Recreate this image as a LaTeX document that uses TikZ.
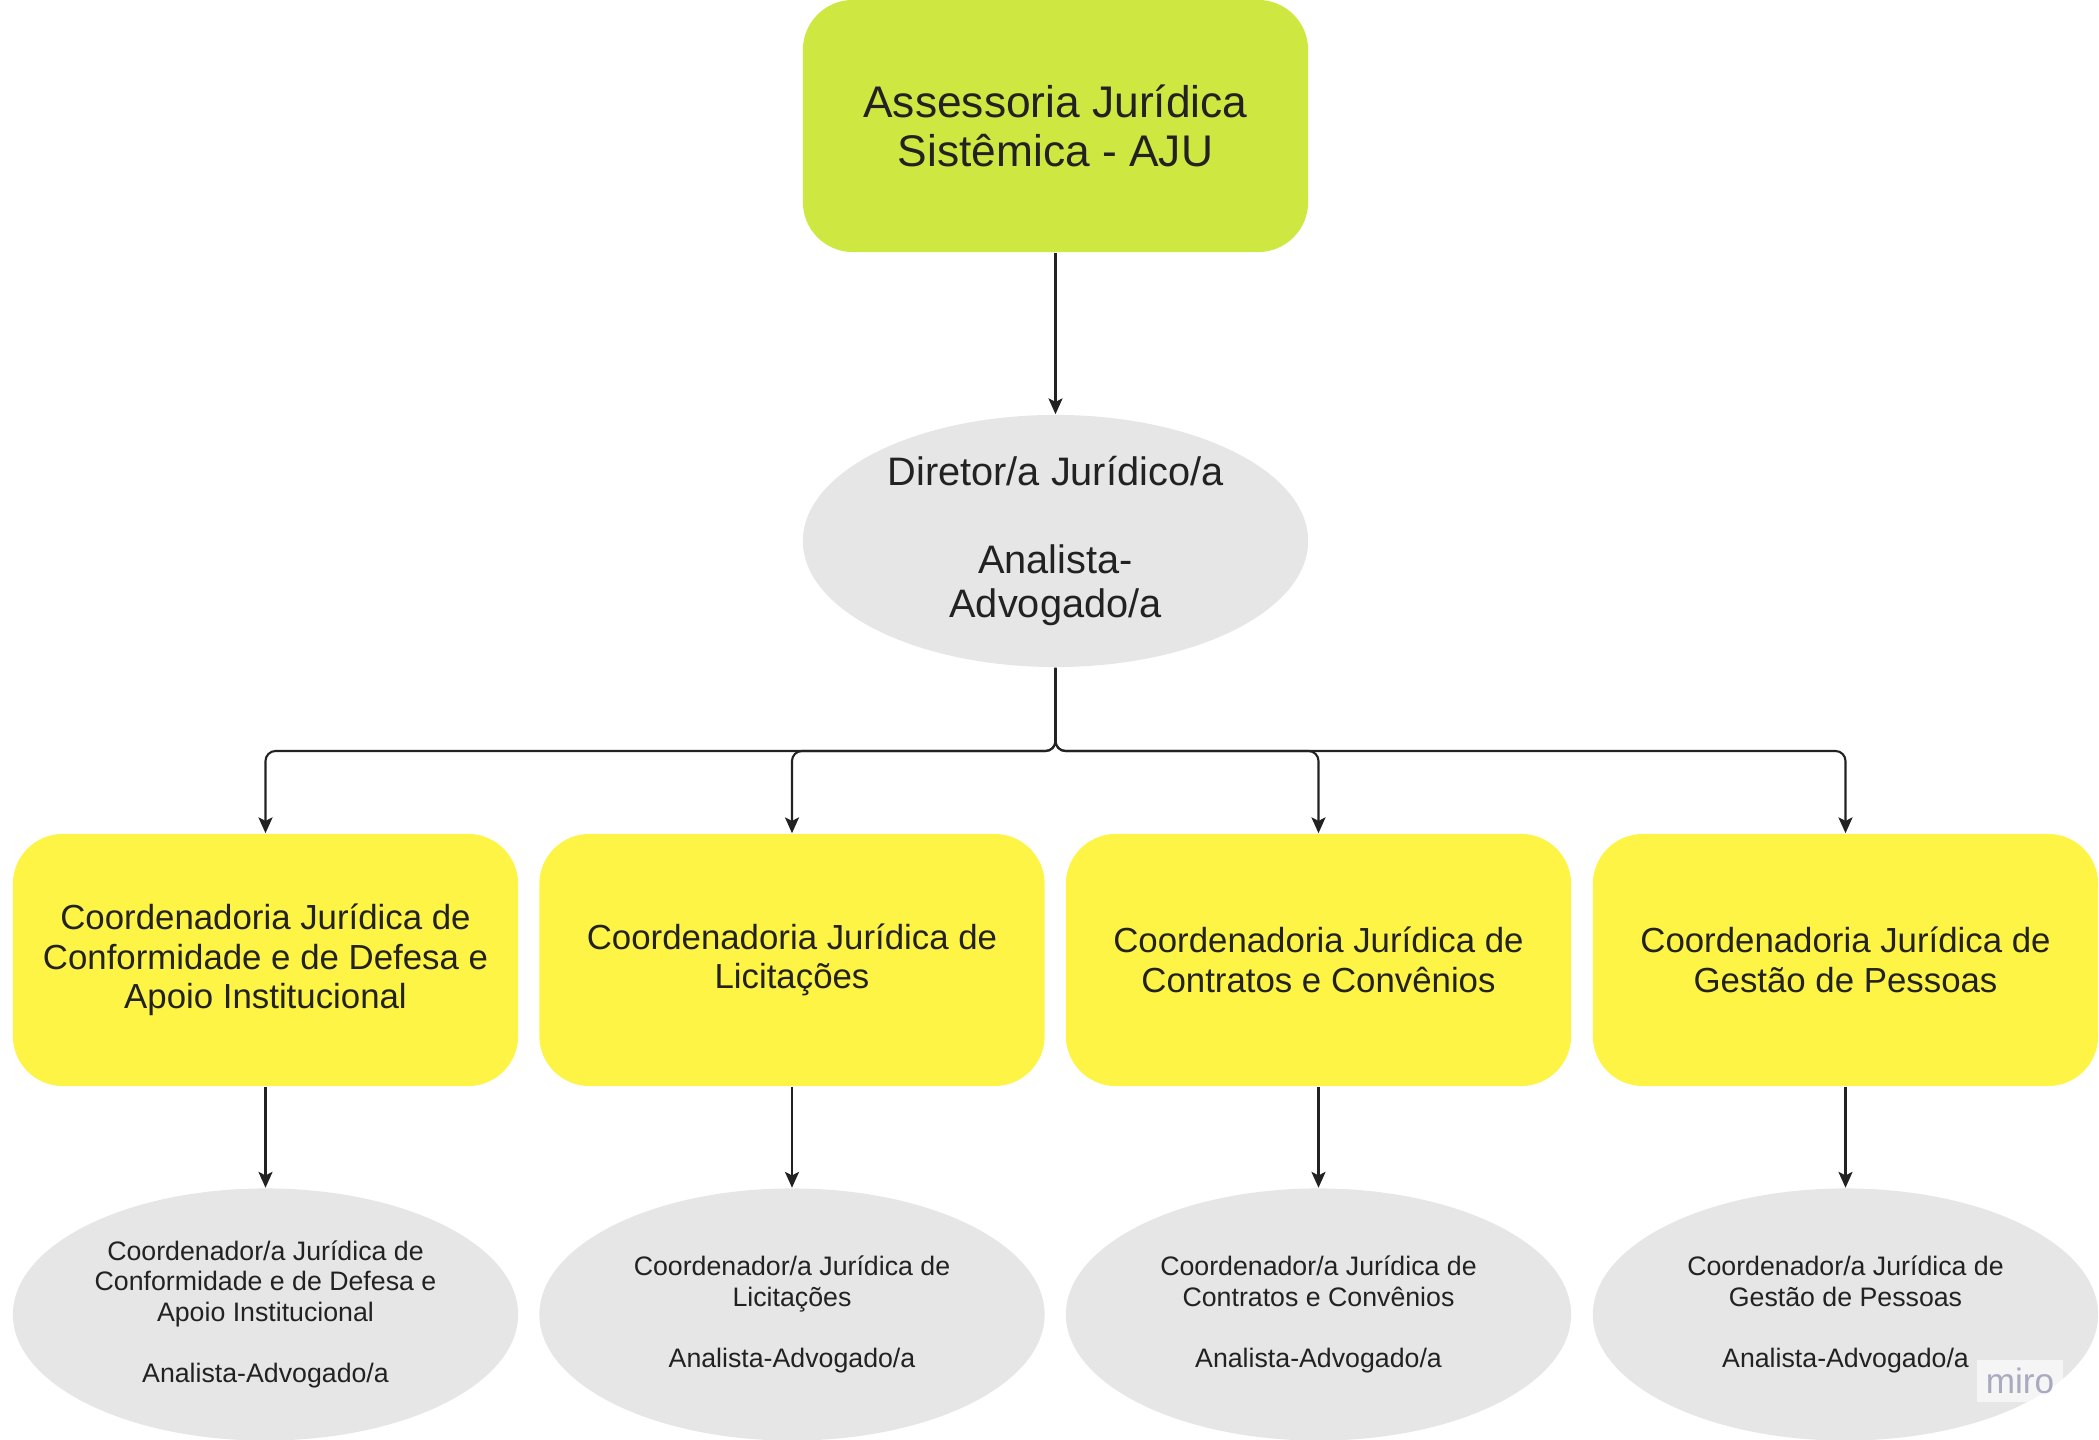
\documentclass[tikz,border=0pt]{standalone}
\usepackage{fontspec}
\setmainfont{Liberation Sans}
\usetikzlibrary{shapes.geometric}
\usetikzlibrary{arrows.meta}
\usetikzlibrary{positioning}

\definecolor{ajulime}{HTML}{CEE741}
\definecolor{cjyellow}{HTML}{FEF445}
\definecolor{rolegray}{HTML}{E6E6E6}
\definecolor{inkgray}{HTML}{222222}
\definecolor{miroink}{HTML}{A9A9BF}

\begin{document}
\begin{tikzpicture}[
  x=0.01cm, y=-0.01cm,
  every node/.style={text=inkgray, align=center, inner sep=0},
  unitbox/.style={rectangle, rounded corners=0.5cm, minimum width=5.05cm, minimum height=2.52cm},
  ajubox/.style={unitbox, fill=ajulime, font=\fontsize{12.6}{13.7}\selectfont},
  cjbox/.style={unitbox, fill=cjyellow, font=\fontsize{9.9}{11.2}\selectfont},
  rolebig/.style={ellipse, fill=rolegray, minimum width=5.05cm, minimum height=2.52cm, font=\fontsize{11.3}{12.5}\selectfont},
  rolesmall/.style={ellipse, fill=rolegray, minimum width=5.05cm, minimum height=2.52cm, font=\fontsize{7.6}{8.7}\selectfont},
  ar/.style={-{Stealth[length=4.5pt,width=4pt,inset=1pt]}, draw=inkgray, line width=0.6pt}
  ] %
    \useasboundingbox (0,0) rectangle (2099,1440);
    % head and director
    \node[ajubox](aju) at (1055.5,126) {Assessoria Jurídica\\Sistêmica - AJU};
    \node[rolebig](dir) at (1055.5,541) {Diretor/a Jurídico/a\\[12.5pt]Analista-\\Advogado/a};
    % coordinations
    \node[cjbox](c1) at (265.5,960) {Coordenadoria Jurídica de\\Conformidade e de Defesa e\\Apoio Institucional};
    \node[cjbox](c2) at (792,960) {Coordenadoria Jurídica de\\Licitações};
    \node[cjbox](c3) at (1318.5,960) {Coordenadoria Jurídica de\\Contratos e Convênios};
    \node[cjbox](c4) at (1845.5,960) {Coordenadoria Jurídica de\\Gestão de Pessoas};
    % staff
    \node[rolesmall](r1) at (265.5,1314.5) {Coordenador/a Jurídica de\\Conformidade e de Defesa e\\Apoio Institucional\\[8.7pt]Analista-Advogado/a};
    \node[rolesmall](r2) at (792,1314.5) {Coordenador/a Jurídica de\\Licitações\\[8.7pt]Analista-Advogado/a};
    \node[rolesmall](r3) at (1318.5,1314.5) {Coordenador/a Jurídica de\\Contratos e Convênios\\[8.7pt]Analista-Advogado/a};
    \node[rolesmall](r4) at (1845.5,1314.5) {Coordenador/a Jurídica de\\Gestão de Pessoas\\[8.7pt]Analista-Advogado/a};
    \node[fill=white, fill opacity=0.6, text opacity=1, text=miroink, font=\fontsize{10}{10}\selectfont, minimum width=0.85cm, minimum height=0.42cm](miro) at (2020,1381) {miro};
    \coordinate (bus) at (1055.5,751);
    \draw[ar](aju) -- (dir);
    \foreach \i in {1,...,4} {
      \draw[ar, rounded corners=0.1cm](dir.south) -- (bus) -| (c\i.north);
      \draw[ar](c\i) -- (r\i);
    }
  \end{tikzpicture}
\end{document}
